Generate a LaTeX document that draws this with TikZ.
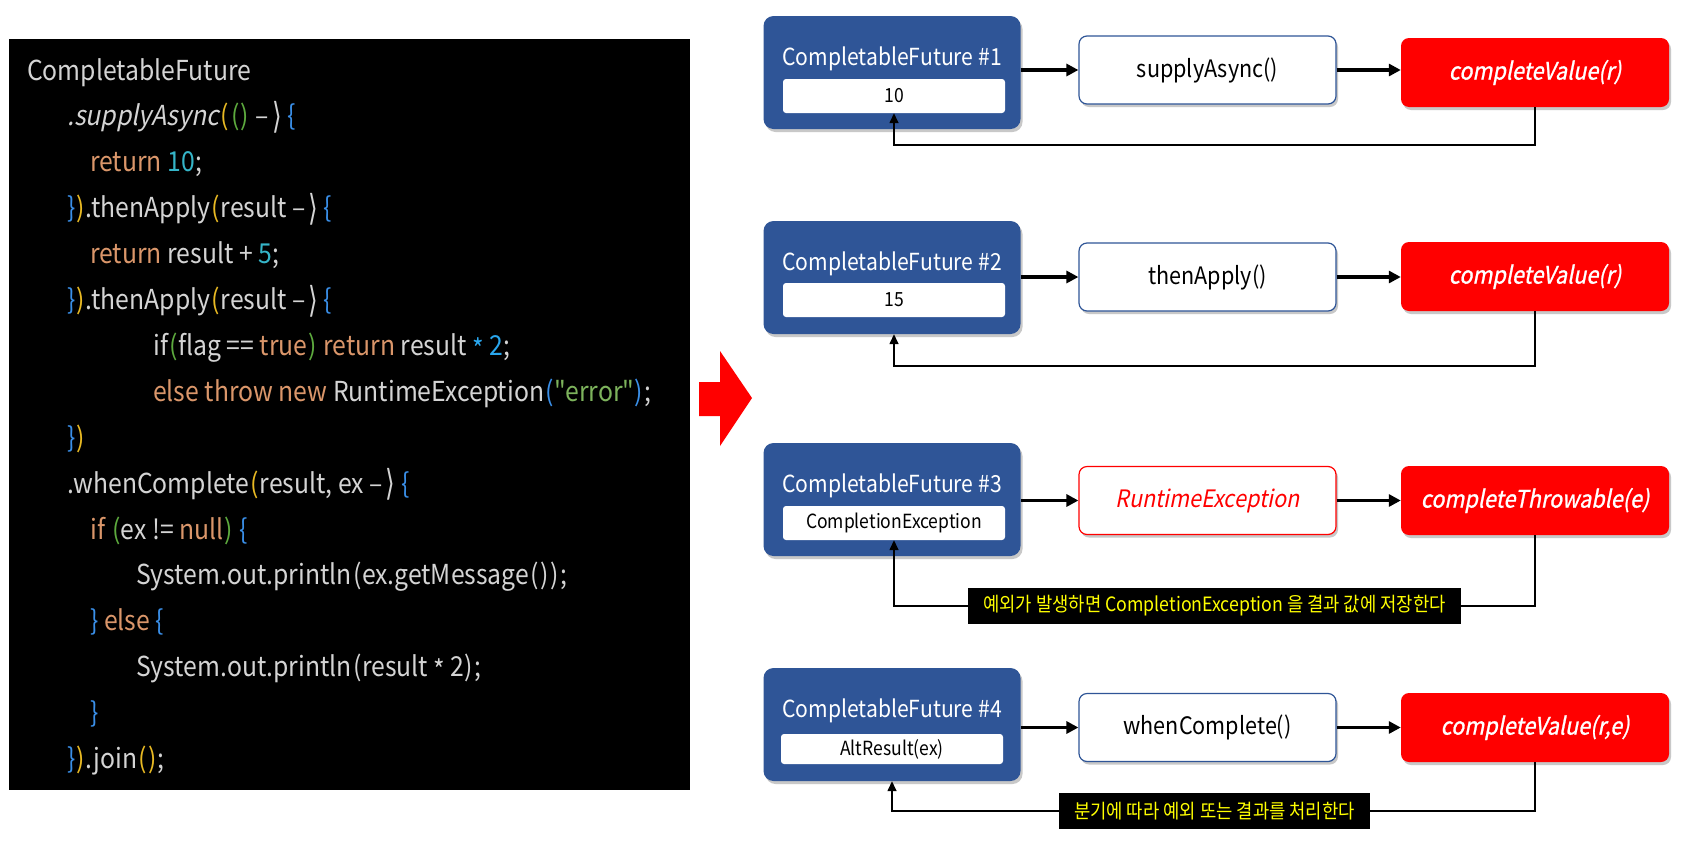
\documentclass[tikz,border=0pt]{standalone}
\usepackage{fontspec}
\setmainfont{Noto Sans CJK KR}[AutoFakeSlant=0.2, FakeStretch=0.9, Ligatures=TeXOff]
\newfontfamily\heavyfont{Noto Sans CJK KR}[FakeSlant=0.2, FakeBold=1, FakeStretch=0.9]
\newfontfamily\symfont{DejaVu Sans}
\usetikzlibrary{arrows.meta,shadows}

% editor palette for the code listing
\definecolor{codebg}{HTML}{000000}
\definecolor{ctxt}{HTML}{D4D4D4}
\definecolor{ckwc}{HTML}{DA966A}
\definecolor{cnumc}{HTML}{35B5C8}
\definecolor{cnumbc}{HTML}{2AA7EE}
\definecolor{cbrc}{HTML}{3A8FE8}
\definecolor{cgoldc}{HTML}{E8B923}
\definecolor{cgrnc}{HTML}{5DAA3E}
\definecolor{cstrc}{HTML}{7DB35C}
% diagram palette
\definecolor{cfblue}{HTML}{2F5597}
\definecolor{notey}{HTML}{FFFF00}

\newcommand\ckw[1]{\textcolor{ckwc}{#1}}
\newcommand\cnum[1]{\textcolor{cnumc}{#1}}
\newcommand\cnumb[1]{\textcolor{cnumbc}{#1}}
\newcommand\cbr[1]{\textcolor{cbrc}{#1}}
\newcommand\cgold[1]{\textcolor{cgoldc}{#1}}
\newcommand\cgrn[1]{\textcolor{cgrnc}{#1}}
\newcommand\cstr[1]{\textcolor{cstrc}{#1}}
% parentheses with the wider side bearings of the editor font
\newcommand\po{\kern1.5pt(\kern0.5pt}
\newcommand\pc{\kern0.5pt)\kern1.5pt}
\newcommand\lamarr{–\kern3pt\raisebox{-0.1em}{\scalebox{0.9}[1.3]{\symfont ⟩}}}
\newcommand\mulop{\raisebox{-0.25ex}{*}}

\tikzset{
  codeline/.style={anchor=base west, inner sep=0pt, text=ctxt,
    font=\fontsize{27.5}{46}\selectfont},
  shadowed/.style={drop shadow={shadow xshift=2pt, shadow yshift=-3pt,
    opacity=0.3, fill=black!70}},
  cfbox/.style={fill=cfblue, rounded corners=10pt, minimum width=257pt,
    minimum height=113pt, shadowed},
  cftitle/.style={anchor=base, inner sep=0pt, text=white,
    font=\fontsize{23.5}{26}\selectfont},
  valbox/.style={fill=white, rounded corners=3pt, minimum width=222pt,
    minimum height=34pt, inner sep=0pt, text=black,
    font=\fontsize{19.5}{22}\selectfont},
  opbox/.style={draw=cfblue, line width=1.2pt, fill=white, rounded corners=8pt,
    minimum width=257pt, minimum height=68pt, text=black,
    font=\fontsize{24}{26}\selectfont, shadowed},
  errbox/.style={opbox, draw=red, text=red, font=\fontsize{24}{26}\selectfont\itshape},
  donebox/.style={fill=red, rounded corners=8pt, minimum width=268pt,
    minimum height=69pt, text=white, font=\fontsize{24}{26}\selectfont\heavyfont,
    shadowed},
  flow/.style={line width=3.5pt, -{Triangle[length=12pt,width=12pt]}},
  back/.style={line width=1.5pt, -{Triangle[length=10pt,width=9pt]}},
  note/.style={fill=black, text=notey, minimum height=36pt, inner xsep=15pt,
    inner ysep=0pt, font=\fontsize{19.7}{22}\selectfont}
}

\begin{document}
\begin{tikzpicture}[x=1pt,y=-1pt]
\useasboundingbox (0,0) rectangle (1687,847);
\fill[white] (0,0) rectangle (1687,847);

% ---- code listing ----
\fill[codebg] (9,39) rectangle (690,790);
\node[codeline] (c0)  at (27,{80+45.9*0})  {CompletableFuture};
\node[codeline] (c1)  at (67,{80+45.9*1})  {\textit{.supplyAsync}\cgold{\po}\cgrn{\po\pc} \lamarr{} \cbr{\{}};
\node[codeline] (c2)  at (90,{80+45.9*2})  {\ckw{return} \cnum{10};};
\node[codeline] (c3)  at (67,{80+45.9*3})  {\cbr{\}}\cgold{\pc}.thenApply\cgold{\po}result \lamarr{} \cbr{\{}};
\node[codeline] (c4)  at (90,{80+45.9*4})  {\ckw{return} result + \cnum{5};};
\node[codeline] (c5)  at (67,{80+45.9*5})  {\cbr{\}}\cgold{\pc}.thenApply\cgold{\po}result \lamarr{} \cbr{\{}};
\node[codeline] (c6)  at (153,{80+45.9*6}) {if\cgrn{\po}flag == \ckw{true}\cgrn{\pc} \ckw{return} result \cnumb{\mulop} \cnumb{2};};
\node[codeline] (c7)  at (153,{80+45.9*7}) {\ckw{else throw new} RuntimeException\cbr{\po}\cstr{"error"}\cbr{\pc};};
\node[codeline] (c8)  at (67,{80+45.9*8})  {\cbr{\}}\cgold{\pc}};
\node[codeline] (c9)  at (67,{80+45.9*9})  {.whenComplete\cgold{\po}result, ex \lamarr{} \cbr{\{}};
\node[codeline] (c10) at (90,{80+45.9*10}) {\ckw{if} \cgrn{\po}ex != \ckw{null}\cgrn{\pc} \cbr{\{}};
\node[codeline] (c11) at (136,{80+45.9*11}) {System.out.println\po ex.getMessage\po\pc\pc;};
\node[codeline] (c12) at (90,{80+45.9*12}) {\cbr{\}} \ckw{else} \cbr{\{}};
\node[codeline] (c13) at (136,{80+45.9*13}) {System.out.println\po result \mulop{} 2\pc;};
\node[codeline] (c14) at (90,{80+45.9*14}) {\cbr{\}}};
\node[codeline] (c15) at (67,{80+45.9*15}) {\cbr{\}}\cgold{\pc}.join\cgold{\po\pc};};

% ---- transition arrow ----
\fill[red] (699,382) -- (720,382) -- (720,351) -- (752,398) -- (720,446)
  -- (720,416) -- (699,416) -- cycle;

% ---- row 1 ----
\node[cfbox] (b1) at (892,72.5) {};
\node[cftitle] (t1) at (892,65) {CompletableFuture \#1};
\node[valbox] (v1) at (894,96) {10};
\node[opbox] (m1) at (1207.5,70) {supplyAsync()};
\node[donebox] (r1) at (1535,72.5) {completeValue(r)};
\draw[flow] (m1.west -| b1.east) -- (m1.west);
\draw[flow] (m1.east) -- (m1.east -| r1.west);
\coordinate (f1) at (1214.5,145);
\draw[back] (r1.south) |- (f1) -| (v1.south);

% ---- row 2 ----
\node[cfbox] (b2) at (892,277.5) {};
\node[cftitle] (t2) at (892,270) {CompletableFuture \#2};
\node[valbox] (v2) at (894,300) {15};
\node[opbox] (m2) at (1207.5,277) {thenApply()};
\node[donebox] (r2) at (1535,276.5) {completeValue(r)};
\draw[flow] (m2.west -| b2.east) -- (m2.west);
\draw[flow] (m2.east) -- (m2.east -| r2.west);
\coordinate (f2) at (1214.5,366);
\draw[back] (r2.south) |- (f2) -| (b2.south -| v2.south);

% ---- row 3 ----
\node[cfbox] (b3) at (892,499.5) {};
\node[cftitle] (t3) at (892,492) {CompletableFuture \#3};
\node[valbox] (v3) at (894,523) {CompletionException};
\node[errbox] (m3) at (1207.5,500.5) {RuntimeException};
\node[donebox] (r3) at (1535,500.5) {completeThrowable(e)};
\draw[flow] (m3.west -| b3.east) -- (m3.west);
\draw[flow] (m3.east) -- (m3.east -| r3.west);
\node[note] (n3) at (1214.5,606) {예외가 발생하면 CompletionException 을 결과 값에 저장한다};
\draw[line width=1.5pt] (r3.south) |- (n3.east);
\draw[back] (n3.west) -| (v3.south);

% ---- row 4 ----
\node[cfbox] (b4) at (892,724.5) {};
\node[cftitle] (t4) at (892,717) {CompletableFuture \#4};
\node[valbox, minimum height=30pt] (v4) at (892,749) {AltResult(ex)};
\node[opbox] (m4) at (1207.5,727.5) {whenComplete()};
\node[donebox] (r4) at (1535,727.5) {completeValue(r,e)};
\draw[flow] (m4.west -| b4.east) -- (m4.west);
\draw[flow] (m4.east) -- (m4.east -| r4.west);
\node[note] (n4) at (1214.5,811) {분기에 따라 예외 또는 결과를 처리한다};
\draw[line width=1.5pt] (r4.south) |- (n4.east);
\draw[back] (n4.west) -| (b4.south -| v4.south);
\end{tikzpicture}
\end{document}
